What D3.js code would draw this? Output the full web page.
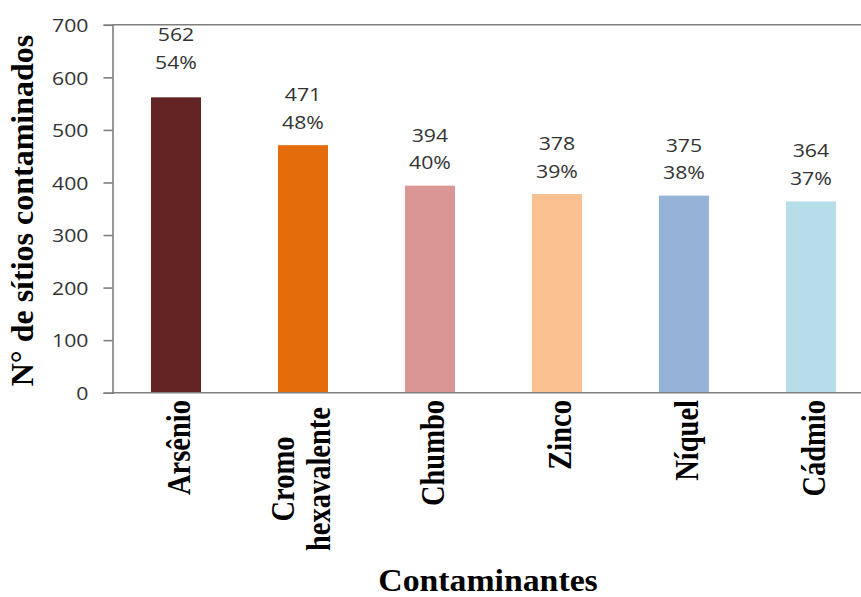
<!DOCTYPE html>
<html>
<head>
<meta charset="utf-8">
<script src="https://cdn.jsdelivr.net/npm/d3@7"></script>
<style>
  html, body { margin: 0; padding: 0; background: #ffffff; }
  svg { display: block; }
</style>
</head>
<body>
<svg id="chart" width="861" height="597"></svg>
<script>
// Contaminants and number of contaminated sites
const categories = ["Arsênio", "Cromo\nhexavalente", "Chumbo", "Zinco", "Níquel", "Cádmio"];
const sites = [562, 471, 394, 378, 375, 364];
const percentLabels = ["54%", "48%", "40%", "39%", "38%", "37%"];
const barColors = ["#632523", "#E46C0A", "#D99694", "#FAC08F", "#95B3D7", "#B7DEE8"];
const yTicks = [0, 100, 200, 300, 400, 500, 600, 700];

const svg = d3.select("#chart");
const plot = { left: 112.5, top: 24.8, bottom: 392.7, right: 874.4 };
const stretch = 1.15; // horizontal widening of the sans text

const x = d3.scaleBand()
  .domain(categories)
  .range([plot.left, plot.right])
  .paddingInner(0.606)
  .paddingOuter(0.303);

const y = d3.scaleLinear()
  .domain([0, 700])
  .range([plot.bottom, plot.top]);

const axisColor = "#7f7f7f";
const sansFont = "'Open Sans', sans-serif";
const serifFont = "'Liberation Serif', 'Times New Roman', serif";

// top border line of the plot area
svg.append("line")
  .attr("x1", plot.left).attr("x2", 861)
  .attr("y1", y(700)).attr("y2", y(700))
  .attr("stroke", axisColor).attr("stroke-width", 1.6);

// bars
svg.append("g").selectAll("rect")
  .data(sites)
  .join("rect")
  .attr("x", (d, i) => x(categories[i]))
  .attr("width", x.bandwidth())
  .attr("y", d => y(d))
  .attr("height", d => y(0) - y(d))
  .attr("fill", (d, i) => barColors[i]);

// y axis
const yAxis = svg.append("g")
  .attr("transform", `translate(${plot.left},0)`)
  .call(d3.axisLeft(y).tickValues(yTicks).tickSize(9).tickPadding(15).tickFormat(d3.format("d")));
yAxis.select(".domain").attr("stroke", axisColor).attr("stroke-width", 1.6);
yAxis.selectAll(".tick line").attr("stroke", axisColor).attr("stroke-width", 1.6);
yAxis.selectAll(".tick text")
  .attr("font-family", sansFont)
  .attr("font-size", 18.5)
  .attr("fill", "#333333")
  .attr("dy", "0.36em")
  .each(function () {
    const t = d3.select(this);
    const tx = +t.attr("x");
    t.attr("x", 0).attr("transform", `translate(${tx},0) scale(${stretch},1)`);
  });

// x baseline
svg.append("line")
  .attr("x1", plot.left).attr("x2", 861)
  .attr("y1", y(0)).attr("y2", y(0))
  .attr("stroke", axisColor).attr("stroke-width", 1.6);

// value labels: count on top, share below
const valueGroup = svg.append("g")
  .attr("font-family", sansFont)
  .attr("font-size", 18.5)
  .attr("fill", "#333333")
  .attr("text-anchor", "middle");

sites.forEach((v, i) => {
  const cx = x(categories[i]) + x.bandwidth() / 2;
  const nudge = i === 0 ? -12 : 0; // first label sits higher, against the top border
  const pctBase = y(v) - 16.5 + nudge;
  valueGroup.append("text")
    .attr("transform", `translate(${cx},${pctBase - 27.5}) scale(${stretch},1)`)
    .text(v);
  valueGroup.append("text")
    .attr("transform", `translate(${cx},${pctBase}) scale(${stretch},1)`)
    .text(percentLabels[i]);
});

// category labels, rotated
const catGroup = svg.append("g")
  .attr("font-family", serifFont)
  .attr("font-weight", "bold")
  .attr("font-size", 28.5)
  .attr("fill", "#000000");

categories.forEach((c, i) => {
  const lines = c.split("\n");
  const cx = x(c) + x.bandwidth() / 2;
  if (lines.length === 1) {
    catGroup.append("text")
      .attr("text-anchor", "end")
      .attr("transform", `translate(${cx + 14},400) scale(${stretch},1) rotate(-90)`)
      .text(lines[0]);
  } else {
    const texts = lines.map(l => catGroup.append("text").attr("text-anchor", "middle").text(l));
    const longest = d3.max(texts, t => t.node().getComputedTextLength());
    const cy = 407 + longest / 2;
    const gap = 36;
    texts.forEach((t, k) => {
      const bx = cx + 9 + (k - (lines.length - 1) / 2) * gap;
      t.attr("transform", `translate(${bx},${cy}) scale(${stretch},1) rotate(-90)`);
    });
  }
});

// axis titles
svg.append("text")
  .attr("font-family", serifFont)
  .attr("font-weight", "bold")
  .attr("font-size", 32)
  .attr("text-anchor", "middle")
  .attr("transform", "translate(33,210.5) rotate(-90)")
  .text("N° de sítios contaminados");

svg.append("text")
  .attr("font-family", serifFont)
  .attr("font-weight", "bold")
  .attr("font-size", 31)
  .attr("text-anchor", "middle")
  .attr("transform", "translate(488,591) scale(1.09,1)")
  .text("Contaminantes");
</script>
</body>
</html>
